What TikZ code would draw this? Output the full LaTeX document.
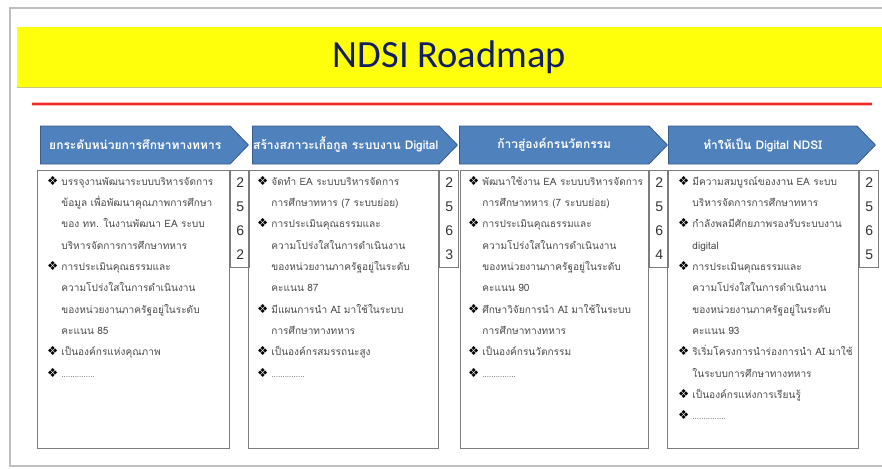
\documentclass[tikz,border=0pt]{standalone}
\usepackage{fontspec}
\setmainfont{Carlito}
\newfontfamily\thaifont[Script=Thai]{Loma}
\newfontfamily\symfont{DejaVu Sans}
\newfontfamily\numfont{Liberation Sans}
\usepackage{xcolor}
\definecolor{chevfill}{RGB}{79,129,189}
\definecolor{chevedge}{RGB}{56,93,138}
\definecolor{banner}{RGB}{255,255,12}
\definecolor{titleblue}{RGB}{18,30,96}
\definecolor{ruled}{RGB}{238,42,42}
\definecolor{frame}{RGB}{125,125,125}
\definecolor{bodytext}{RGB}{75,75,75}
\usepackage{tikz}
\usetikzlibrary{shapes.symbols, positioning}
\tikzstyle{stage} = [
    signal, signal to=east, signal pointer angle=92,
    anchor=west,
    fill=chevfill, draw=chevedge, thick,
    minimum height=38pt, inner sep=0pt,
    text=white, font=\thaifont\bfseries\fontsize{12}{14}\selectfont,
]
\tikzstyle{panel} = [
    rectangle, anchor=north west,
    draw=frame, line width=1.2pt,
    minimum height=278pt,
]
\tikzstyle{numcell} = [
    panel,
    minimum width=19pt, minimum height=97pt,
    inner sep=0pt, align=center, text=black!80,
    font=\numfont\fontsize{14}{24}\selectfont,
]
\tikzstyle{items} = [
    align=left, inner sep=0pt,
    text=bodytext, font=\thaifont\fontsize{10.1}{21.3}\selectfont,
]
\newcommand{\bul}{{\symfont\color{black}\fontsize{12.5}{10}\selectfont ❖}\hspace{3pt}}
\newcommand{\ind}{\phantom{\bul}}
\newcommand{\tbd}{\footnotesize ...............}

\begin{document}
\begin{tikzpicture}[x=1pt, y=-1pt]
    \useasboundingbox (0,0) rectangle (882,468);

    % slide
    \draw [frame!50, line width=1.5pt] (882,8) -- (10,8) -- (10,466) -- (882,466);

    % title
    \node (title) at (449.5,57) [rectangle, fill=banner, minimum width=865pt, minimum height=60pt,
        text=titleblue, font=\fontsize{38.5}{40}\selectfont] {\raisebox{3pt}{NDSI Roadmap}};
    \draw [yellow!60!black!60, line width=1pt] (title.south west) -- (title.south east);
    \coordinate (rulestart) at (32,104);
    \coordinate (ruleend) at (872,104);
    \draw [ruled!35, line width=4pt] (rulestart) -- (ruleend);
    \draw [ruled, line width=2pt] (rulestart) -- (ruleend);

    % stages
    \node (stage1) at (40,145) [stage, minimum width=208pt] {ยกระดับหน่วยการศึกษาทางทหาร};
    \node (stage2) at (252,145) [stage, minimum width=205pt] {สร้างสภาวะเกื้อกูล ระบบงาน Digital};
    \node (stage3) at (459,145) [stage, minimum width=208pt] {ก้าวสู่องค์กรนวัตกรรม};
    \node (stage4) at (668,145) [stage, minimum width=207pt] {ทำให้เป็น Digital NDSI};

    % boxes
    \node (body1) at (37,170) [panel, minimum width=192pt] {};
    \node (body2) at (248,170) [panel, minimum width=190pt] {};
    \node (body3) at (460,170) [panel, minimum width=188pt] {};
    \node (body4) at (667,170) [panel, minimum width=191pt] {};

    \node (num1) at (body1.north east) [numcell] {2\\5\\6\\2};
    \node (num2) at (body2.north east) [numcell] {2\\5\\6\\3};
    \node (num3) at (body3.north east) [numcell] {2\\5\\6\\4};
    \node (num4) at (body4.north east) [numcell] {2\\5\\6\\5};

    % items
    \node (list1) [items, below right=6pt and 10pt of body1.north west] {
        \bul บรรจุงานพัฒนาระบบบริหารจัดการ\\
        \ind ข้อมูล เพื่อพัฒนาคุณภาพการศึกษา\\
        \ind ของ ทท. ในงานพัฒนา EA ระบบ\\
        \ind บริหารจัดการการศึกษาทหาร\\
        \bul การประเมินคุณธรรมและ\\
        \ind ความโปร่งใสในการดำเนินงาน\\
        \ind ของหน่วยงานภาครัฐอยู่ในระดับ\\
        \ind คะแนน 85\\
        \bul เป็นองค์กรแห่งคุณภาพ\\
        \bul \tbd};
    \node (list2) [items, below right=6pt and 9pt of body2.north west] {
        \bul จัดทำ EA ระบบบริหารจัดการ\\
        \ind การศึกษาทหาร (7 ระบบย่อย)\\
        \bul การประเมินคุณธรรมและ\\
        \ind ความโปร่งใสในการดำเนินงาน\\
        \ind ของหน่วยงานภาครัฐอยู่ในระดับ\\
        \ind คะแนน 87\\
        \bul มีแผนการนำ AI มาใช้ในระบบ\\
        \ind การศึกษาทางทหาร\\
        \bul เป็นองค์กรสมรรถนะสูง\\
        \bul \tbd};
    \node (list3) [items, below right=6pt and 8pt of body3.north west] {
        \bul พัฒนาใช้งาน EA ระบบบริหารจัดการ\\
        \ind การศึกษาทหาร (7 ระบบย่อย)\\
        \bul การประเมินคุณธรรมและ\\
        \ind ความโปร่งใสในการดำเนินงาน\\
        \ind ของหน่วยงานภาครัฐอยู่ในระดับ\\
        \ind คะแนน 90\\
        \bul ศึกษาวิจัยการนำ AI มาใช้ในระบบ\\
        \ind การศึกษาทางทหาร\\
        \bul เป็นองค์กรนวัตกรรม\\
        \bul \tbd};
    \node (list4) [items, below right=6pt and 11pt of body4.north west] {
        \bul มีความสมบูรณ์ของงาน EA ระบบ\\
        \ind บริหารจัดการการศึกษาทหาร\\
        \bul กำลังพลมีศักยภาพรองรับระบบงาน\\
        \ind digital\\
        \bul การประเมินคุณธรรมและ\\
        \ind ความโปร่งใสในการดำเนินงาน\\
        \ind ของหน่วยงานภาครัฐอยู่ในระดับ\\
        \ind คะแนน 93\\
        \bul ริเริ่มโครงการนำร่องการนำ AI มาใช้\\
        \ind ในระบบการศึกษาทางทหาร\\
        \bul เป็นองค์กรแห่งการเรียนรู้\\
        \bul \tbd};

\end{tikzpicture}
\end{document}
